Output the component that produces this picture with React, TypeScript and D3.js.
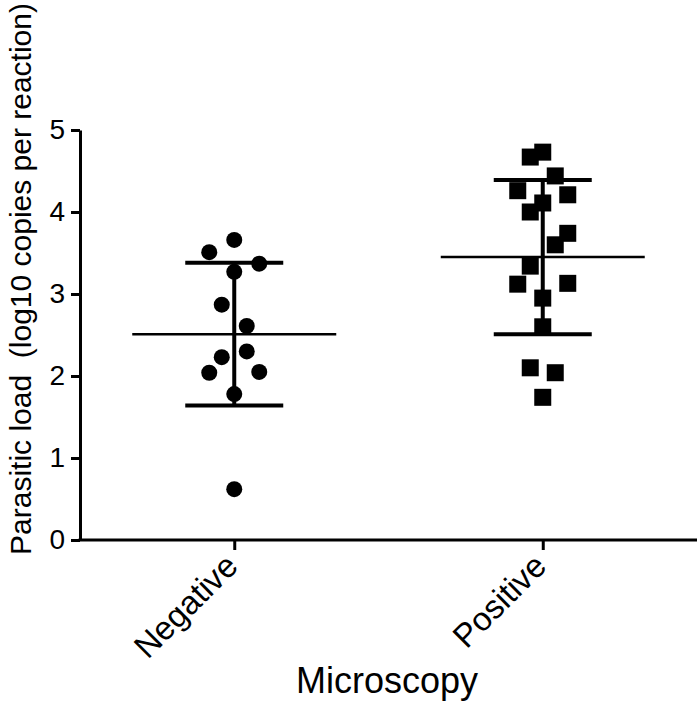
import React, { useEffect, useRef } from 'react'
import * as d3 from 'd3'

const categories = ['Negative', 'Positive']
const yTicks = [0, 1, 2, 3, 4, 5]

// log10 copies per reaction
const negativeValues = [3.66, 3.51, 3.37, 3.27, 2.87, 2.61, 2.30, 2.23, 2.05, 2.04, 1.78, 0.62]
const negativeJitter = [0, -2, 2, 0, -1, 1, 1, -1, 2, -2, 0, 0]
const positiveValues = [4.73, 4.67, 4.44, 4.26, 4.21, 4.11, 4.0, 3.74, 3.6, 3.34, 3.13, 3.12, 2.95, 2.6, 2.1, 2.04, 1.74]
const positiveJitter = [0, -1, 1, -2, 2, 0, -1, 2, 1, -1, 2, -2, 0, 0, -1, 1, 0]

// mean and SD bars as drawn
const means = [2.51, 3.45]
const sds = [0.87, 0.94]

export default function App() {
  const ref = useRef<SVGSVGElement>(null)

  useEffect(() => {
    const width = 700
    const height = 703
    const left = 80
    const right = 697
    const top = 130
    const bottom = 540
    const font = 'Arial, "Liberation Sans", sans-serif'

    const svg = d3.select(ref.current)
    svg.selectAll('*').remove()
    svg.attr('width', width).attr('height', height)

    const x = d3.scalePoint().domain(categories).range([left, right]).padding(0.5)
    const y = d3.scaleLinear().domain([0, 5]).range([bottom, top])

    // y axis
    const yAxis = svg.append('g')
      .attr('transform', `translate(${left},0)`)
      .call(d3.axisLeft(y).tickValues(yTicks).tickSize(9).tickSizeOuter(0).tickPadding(6).tickFormat(d3.format('d')))
    yAxis.select('.domain').attr('stroke-width', 3).attr('stroke', '#000')
    yAxis.selectAll('.tick line').attr('stroke-width', 3).attr('stroke', '#000')
    yAxis.selectAll('.tick text')
      .attr('font-family', font).attr('font-size', 28).attr('fill', '#000')

    // x axis
    const xAxis = svg.append('g')
      .attr('transform', `translate(0,${bottom})`)
      .call(d3.axisBottom(x).tickSize(10).tickSizeOuter(0))
    xAxis.select('.domain').attr('stroke-width', 3).attr('stroke', '#000')
      .attr('d', `M${left - 1.5},0H${right}`)
    xAxis.selectAll('.tick line').attr('stroke-width', 3).attr('stroke', '#000')
    xAxis.selectAll('.tick text')
      .attr('font-family', font).attr('font-size', 33).attr('fill', '#000')
      .attr('text-anchor', 'end')
      .attr('dy', 0)
      .attr('y', 0)
      .attr('transform', 'translate(5,28) rotate(-45)')

    // axis titles
    svg.append('text')
      .attr('x', 387).attr('y', 693)
      .attr('text-anchor', 'middle')
      .attr('font-family', font).attr('font-size', 36)
      .text('Microscopy')

    svg.append('text')
      .attr('transform', 'translate(31,279) rotate(-90)')
      .attr('text-anchor', 'middle')
      .attr('font-family', font).attr('font-size', 30)
      .attr('xml:space', 'preserve')
      .style('white-space', 'pre')
      .text('Parasitic load  (log10 copies per reaction)')

    const unit = 12.5

    // points
    svg.append('g').selectAll('circle')
      .data(negativeValues)
      .enter().append('circle')
      .attr('cx', (d, i) => x('Negative')! + negativeJitter[i] * unit)
      .attr('cy', d => y(d))
      .attr('r', 8)
      .attr('fill', '#000')

    const side = 17
    svg.append('g').selectAll('rect')
      .data(positiveValues)
      .enter().append('rect')
      .attr('x', (d, i) => x('Positive')! + positiveJitter[i] * unit - side / 2)
      .attr('y', d => y(d) - side / 2)
      .attr('width', side)
      .attr('height', side)
      .attr('fill', '#000')

    // mean and SD
    const g = svg.append('g').attr('stroke', '#000')
    categories.forEach((c, i) => {
      const cx = x(c)!
      g.append('line')
        .attr('x1', cx - 102).attr('x2', cx + 102)
        .attr('y1', y(means[i])).attr('y2', y(means[i]))
        .attr('stroke-width', 2.5)
      g.append('line')
        .attr('x1', cx).attr('x2', cx)
        .attr('y1', y(means[i] - sds[i])).attr('y2', y(means[i] + sds[i]))
        .attr('stroke-width', 4)
      ;[means[i] - sds[i], means[i] + sds[i]].forEach(v => {
        g.append('line')
          .attr('x1', cx - 49).attr('x2', cx + 49)
          .attr('y1', y(v)).attr('y2', y(v))
          .attr('stroke-width', 4)
      })
    })
  }, [])

  return <svg ref={ref} style={{ position: 'absolute', left: 0, top: 0 }}></svg>
}
